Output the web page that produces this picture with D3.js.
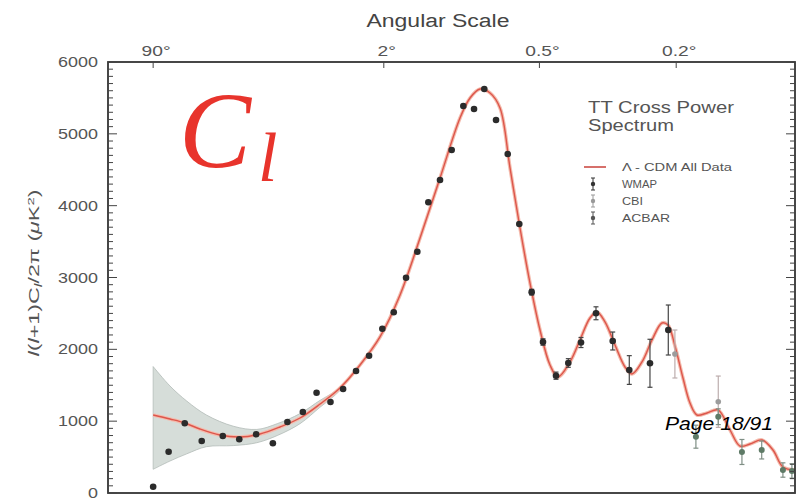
<!DOCTYPE html>
<html><head><meta charset="utf-8">
<script src="https://cdn.jsdelivr.net/npm/d3@7"></script>
<style>body{margin:0;background:#fff}svg{display:block}</style>
</head><body><svg id="c" width="802" height="500" font-family="'Liberation Sans',Arial,sans-serif"></svg>
<script>
// ---- data (multipole l, l(l+1)Cl/2pi in uK^2) ----
const curveL = [2,3.1,4.4,6.1,9.1,13.1,18.2,24.7,32.8,42.8,54.8,69.3,86.4,106.6,130.1,157.2,188.4,205.7,224.1,243.7,264.5,286.7,310.2,335.1,361.6,389.5,413,450.3,483.2,517.9,543.3,573.4,612.8,654.2,684.4,729.3,776.4,825.8,856.5,893.4,937.1,976.6,1017,1078,1147,1227,1296,1368,1459,1546,1628,1732];
const curveD = [1086,1030,975,891,807,780,821,919,1044,1239,1462,1782,2172,2757,3550,4385,5221,5499,5624,5569,5360,4525,3689,2924,2269,1782,1615,1824,2130,2436,2520,2381,2060,1754,1657,1824,2130,2367,2339,2047,1601,1253,1086,1114,1156,877,654,682,738,599,362,320];
const bandL  = [2,3.1,4.6,7.0,11.6,17.3,23.7,32.8,42.8,50,56];
const bandHi = [1760,1490,1280,1085,930,885,965,1105,1290,1390,1470];
const bandLo = [330,445,545,645,660,700,800,965,1195,1330,1450];
const wmapL = [2,3,4.4,6.35,9.6,12.9,17.1,22.2,27.5,34.1,40.9,48.8,56.9,66.2,76.7,88.6,99.9,113.3,126.7,140.9,157.2,174.9,194,212.9,232.3,256,281.5,308.5,339.5,369.8,407.1,444.9,486.6,539.6,603.6,672.6,766.8,858.1];
const wmapD = [88,575,970,724,794,748,817,692,988,1128,1396,1267,1448,1698,1911,2287,2516,2997,3359,4047,4358,4775,5388,5346,5624,5193,4720,3745,2796,2102,1633,1810,2095,2502,2116,1712,1806,2269];
const wmapE = [0,0,0,0,0,0,0,0,0,0,0,0,0,0,0,0,0,0,0,0,0,0,0,0,0,0,0,0,40,45,50,60,70,90,125,200,334,348];
const cbiL = [893,1149];
const cbiD = [1935,1271];
const cbiE = [334,357];
const acbarL = [1011,1149,1310,1457,1628,1705];
const acbarD = [784,1062,571,599,320,306];
const acbarE = [160,110,174,125,100,100];
const yTicks = [0,1000,2000,3000,4000,5000,6000];
const angDeg = [90,2,0.5,0.2];
const angLabels = ["90\u00b0","2\u00b0","0.5\u00b0","0.2\u00b0"];
const legendLabels = ["\u039b - CDM All Data","WMAP","CBI","ACBAR"];

const svg = d3.select("#c");
const W0=108, W1=795, H0=62, H1=493;
const x = d3.scalePow().exponent(0.25).domain([0.45,1732]).range([W0,W1]);
const y = d3.scaleLinear().domain([0,6000]).range([H1,H0]);
const SERIF = "'Liberation Serif','Times New Roman',serif";

function stretch(sel,k){ sel.each(function(){ const t=d3.select(this); const w=this.getComputedTextLength(); t.attr("textLength",w*k).attr("lengthAdjust","spacingAndGlyphs"); }); }
function fitW(sel,w){ sel.attr("textLength",w).attr("lengthAdjust","spacingAndGlyphs"); }

svg.append("defs").append("clipPath").attr("id","pc").append("rect")
  .attr("x",W0).attr("y",H0).attr("width",W1-W0).attr("height",H1-H0);
const plot = svg.append("g").attr("clip-path","url(#pc)");

// cosmic variance band
const band = bandL.map((l,i)=>({l,lo:bandLo[i],hi:bandHi[i]}));
plot.append("path").datum(band)
  .attr("d",d3.area().x(d=>x(d.l)).y0(d=>y(d.lo)).y1(d=>y(d.hi)).curve(d3.curveCatmullRom))
  .attr("fill","#d6ddd9").attr("stroke","#b3bbb7").attr("stroke-width",0.8);

// theory curve
const cdat = curveL.map((l,i)=>({l,v:curveD[i]}));
const line = d3.line().x(d=>x(d.l)).y(d=>y(d.v)).curve(d3.curveCatmullRom);
plot.append("path").datum(cdat).attr("d",line).attr("fill","none").attr("stroke","#f4bcae").attr("stroke-width",3.6);
plot.append("path").datum(cdat).attr("d",line).attr("fill","none").attr("stroke","#d8443a").attr("stroke-width",1.4).attr("opacity",0.85);

// points with error bars
function drawSet(L,D,E,col,barCol,r){
  const g = plot.append("g");
  L.forEach((l,i)=>{
    const cx=x(l), e=E[i];
    if(e>0){
      g.append("line").attr("x1",cx).attr("x2",cx).attr("y1",y(D[i]-e)).attr("y2",y(D[i]+e)).attr("stroke",barCol).attr("stroke-width",1.2);
      [D[i]-e,D[i]+e].forEach(v=>g.append("line").attr("x1",cx-2.5).attr("x2",cx+2.5).attr("y1",y(v)).attr("y2",y(v)).attr("stroke",barCol).attr("stroke-width",1.2));
    }
    g.append("circle").attr("cx",cx).attr("cy",y(D[i])).attr("r",r).attr("fill",col);
  });
}
drawSet(cbiL,cbiD,cbiE,"#9c9c9c","#bcadad",2.8);
drawSet(acbarL,acbarD,acbarE,"#5e7a66","#7f8f85",3);
drawSet(wmapL,wmapD,wmapE,"#2b2b2b","#444",3.3);

// frame
svg.append("rect").attr("x",W0).attr("y",H0).attr("width",W1-W0).attr("height",H1-H0)
  .attr("fill","none").attr("stroke","#333").attr("stroke-width",1.8);

// y ticks (left & right, inward)
const minor = d3.range(0,6001,100);
const tg = svg.append("g").attr("stroke","#444").attr("stroke-width",1);
minor.forEach(v=>{
  const len = v%1000===0 ? 9 : 5;
  tg.append("line").attr("x1",W0).attr("x2",W0+len).attr("y1",y(v)).attr("y2",y(v));
  tg.append("line").attr("x1",W1).attr("x2",W1-len).attr("y1",y(v)).attr("y2",y(v));
});
svg.append("g").selectAll("text").data(yTicks).join("text")
  .attr("x",W0-10).attr("y",d=>y(d)+5).attr("text-anchor","end")
  .attr("font-size",14).attr("fill","#555").text(d=>d)
  .call(stretch,1.28);

// top angular axis
angDeg.forEach((a,i)=>{
  const tx = x(180/a);
  svg.append("line").attr("x1",tx).attr("x2",tx).attr("y1",H0).attr("y2",H0+6).attr("stroke","#444");
  svg.append("text").attr("x",tx+3).attr("y",56).attr("text-anchor","middle")
    .attr("font-size",15).attr("fill","#555").text(angLabels[i]).call(stretch,1.28);
});
svg.append("text").attr("x",438).attr("y",27).attr("text-anchor","middle")
  .attr("font-size",18).attr("fill","#444").text("Angular Scale").call(fitW,143);

// y label
const yl = svg.append("text").attr("transform","translate(39,273) rotate(-90)")
  .attr("text-anchor","middle").attr("font-size",14).attr("fill","#555");
yl.append("tspan").attr("font-style","italic").text("l");
yl.append("tspan").text("(");
yl.append("tspan").attr("font-style","italic").text("l");
yl.append("tspan").text("+1)C");
yl.append("tspan").attr("font-style","italic").attr("font-size",10).attr("dy",3).text("l");
yl.append("tspan").attr("dy",-3).text("/2\u03c0 (");
yl.append("tspan").attr("font-style","italic").text("\u03bc");
yl.append("tspan").text("K");
yl.append("tspan").attr("font-size",9).attr("dy",-5).text("2");
yl.append("tspan").attr("dy",5).text(")");
fitW(yl,167);

// big C_l
svg.append("text").attr("x",179).attr("y",167).style("font-family",SERIF)
  .attr("font-style","italic").attr("font-size",108).attr("fill","#e8342c").text("C");
svg.append("text").attr("x",258).attr("y",181).style("font-family",SERIF)
  .attr("font-style","italic").attr("font-size",70).attr("fill","#e8342c").text("l");

// legend
svg.append("text").attr("x",588).attr("y",113).attr("font-size",16).attr("fill","#555").text("TT Cross Power").call(fitW,146);
svg.append("text").attr("x",588).attr("y",131).attr("font-size",16).attr("fill","#555").text("Spectrum").call(fitW,86);
const lgY = [167,184,201,218];
const lgW = [110,35,21,48];
svg.append("line").attr("x1",584).attr("x2",606).attr("y1",lgY[0]).attr("y2",lgY[0]).attr("stroke","#c8403a").attr("stroke-width",1.5);
const symCol = [null,"#333","#999","#555"];
for(let i=1;i<4;i++){
  const cy=lgY[i];
  svg.append("line").attr("x1",593).attr("x2",593).attr("y1",cy-6).attr("y2",cy+6).attr("stroke",symCol[i]);
  [cy-6,cy+6].forEach(v=>svg.append("line").attr("x1",591).attr("x2",595).attr("y1",v).attr("y2",v).attr("stroke",symCol[i]));
  svg.append("circle").attr("cx",593).attr("cy",cy).attr("r",2.2).attr("fill",symCol[i]);
}
legendLabels.forEach((t,i)=>{
  svg.append("text").attr("x",622).attr("y",lgY[i]+4).attr("font-size",11).attr("fill","#555").text(t).call(fitW,lgW[i]);
});

// page annotation
svg.append("text").attr("x",665).attr("y",430).attr("font-size",18).attr("font-style","italic")
  .attr("fill","#000").text("Page 18/91").call(fitW,108);
</script></body></html>
